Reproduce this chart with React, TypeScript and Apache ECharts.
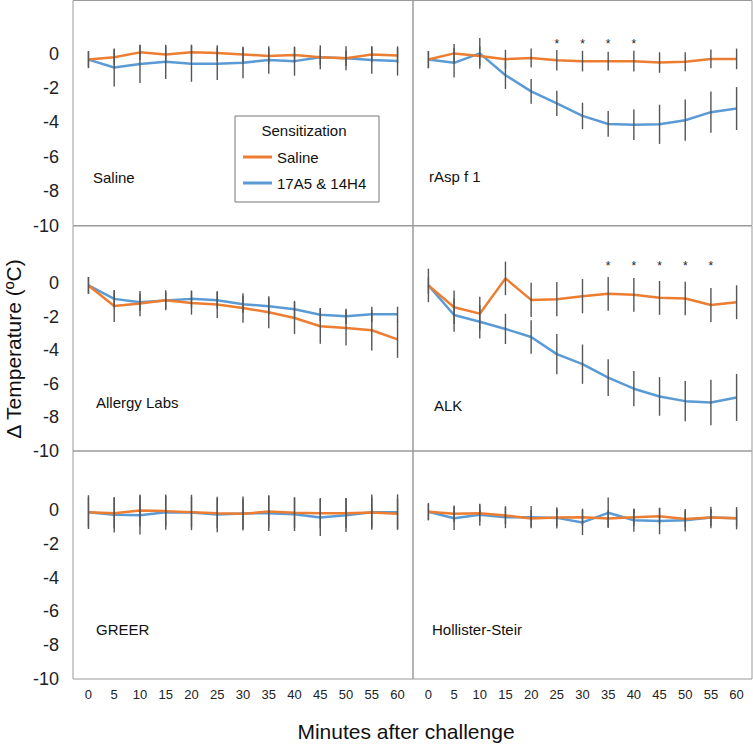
import React, { useEffect, useRef } from "react";
import * as echarts from "echarts";

// ---- data ----
const minutes = [0, 5, 10, 15, 20, 25, 30, 35, 40, 45, 50, 55, 60];
const yTicks = [0, -2, -4, -6, -8, -10];
const panelNames = ["Saline", "rAsp f 1", "Allergy Labs", "ALK", "GREER", "Hollister-Steir"];
const seriesNames = ["Saline", "17A5 & 14H4"];

// Saline panel
const salineSal = [-0.34, -0.2, 0.08, -0.04, 0.08, 0.04, -0.04, -0.13, -0.08, -0.2, -0.26, -0.04, -0.1];
const salineSalErr = [0.45, 0.45, 0.45, 0.45, 0.45, 0.45, 0.45, 0.45, 0.45, 0.45, 0.45, 0.45, 0.45];
const salineAb = [-0.34, -0.8, -0.6, -0.47, -0.58, -0.58, -0.53, -0.36, -0.43, -0.2, -0.26, -0.36, -0.42];
const salineAbErr = [0.5, 1.1, 1.1, 1.0, 1.05, 0.95, 0.9, 0.8, 0.85, 0.7, 0.7, 0.8, 0.85];

// rAsp f 1 panel
const raspSal = [-0.34, 0.02, -0.13, -0.32, -0.25, -0.38, -0.43, -0.43, -0.43, -0.51, -0.47, -0.3, -0.3];
const raspSalErr = [0.5, 0.55, 0.55, 0.55, 0.55, 0.6, 0.6, 0.55, 0.6, 0.6, 0.55, 0.55, 0.6];
const raspAb = [-0.34, -0.53, 0.02, -1.25, -2.19, -2.89, -3.62, -4.09, -4.13, -4.11, -3.87, -3.4, -3.19];
const raspAbErr = [0.5, 0.86, 0.9, 0.8, 0.72, 0.73, 0.77, 0.75, 0.89, 1.14, 1.2, 1.2, 1.25];
const raspStars = [25, 30, 35, 40];
const raspStarLevel = 0.55;

// Allergy Labs panel
const allergySal = [-0.14, -1.36, -1.22, -1.02, -1.18, -1.28, -1.48, -1.74, -2.08, -2.57, -2.67, -2.81, -3.35];
const allergySalErr = [0.5, 0.95, 0.75, 0.6, 0.7, 0.8, 0.88, 0.95, 0.95, 1.05, 1.05, 1.2, 1.1];
const allergyAb = [-0.14, -0.94, -1.14, -1.04, -0.94, -1.02, -1.26, -1.38, -1.56, -1.88, -1.98, -1.86, -1.86];
const allergyAbErr = [0.5, 0.5, 0.5, 0.5, 0.5, 0.5, 0.5, 0.5, 0.5, 0.4, 0.45, 0.45, 0.45];

// ALK panel
const alkSal = [-0.14, -1.44, -1.82, 0.28, -1.0, -0.96, -0.78, -0.64, -0.7, -0.88, -0.92, -1.3, -1.14];
const alkSalErr = [1.0, 1.0, 1.0, 1.0, 1.02, 1.02, 1.02, 1.0, 1.01, 1.01, 1.0, 1.01, 1.01];
const alkAb = [-0.14, -1.9, -2.3, -2.73, -3.21, -4.23, -4.83, -5.63, -6.29, -6.75, -7.03, -7.11, -6.81];
const alkAbErr = [0.5, 1.0, 1.0, 0.9, 1.0, 1.2, 1.17, 1.1, 1.05, 1.15, 1.2, 1.35, 1.4];
const alkStars = [35, 40, 45, 50, 55];
const alkStarLevel = 1.0;

// GREER panel
const greerSal = [-0.12, -0.18, -0.02, -0.06, -0.12, -0.18, -0.22, -0.08, -0.16, -0.18, -0.18, -0.14, -0.22];
const greerSalErr = [0.9, 0.9, 0.95, 0.9, 0.9, 0.9, 0.9, 0.95, 0.9, 0.9, 0.9, 0.9, 0.9];
const greerAb = [-0.12, -0.28, -0.3, -0.12, -0.14, -0.26, -0.2, -0.18, -0.24, -0.44, -0.3, -0.12, -0.12];
const greerAbErr = [1.0, 1.05, 1.15, 1.05, 1.05, 1.05, 1.0, 1.05, 1.0, 1.1, 1.0, 1.05, 1.05];

// Hollister-Steir panel
const hollSal = [-0.1, -0.22, -0.18, -0.32, -0.5, -0.44, -0.42, -0.5, -0.42, -0.36, -0.52, -0.44, -0.48];
const hollSalErr = [0.5, 0.5, 0.5, 0.5, 0.5, 0.5, 0.5, 0.5, 0.5, 0.5, 0.5, 0.5, 0.5];
const hollAb = [-0.1, -0.48, -0.28, -0.42, -0.42, -0.46, -0.73, -0.16, -0.6, -0.65, -0.6, -0.44, -0.48];
const hollAbErr = [0.5, 0.7, 0.65, 0.65, 0.66, 0.63, 0.75, 0.9, 0.68, 0.78, 0.67, 0.64, 0.66];

const panelSal = [salineSal, raspSal, allergySal, alkSal, greerSal, hollSal];
const panelSalErr = [salineSalErr, raspSalErr, allergySalErr, alkSalErr, greerSalErr, hollSalErr];
const panelAb = [salineAb, raspAb, allergyAb, alkAb, greerAb, hollAb];
const panelAbErr = [salineAbErr, raspAbErr, allergyAbErr, alkAbErr, greerAbErr, hollAbErr];

// ---- styles / layout ----
const FONT = "'Liberation Sans', Arial, Helvetica, sans-serif";
const ORANGE = "#ED7D31";
const BLUE = "#5B9BD5";
const ERR = "#555555";
const BORDER = "#9a9a9a";

const colLeft = [73, 413];
const colWidth = [340, 339];
const rowTop = [0.5, 226, 451];
const rowHeight = [225, 225, 228];
const rowMax = [3.1, 3.4, 3.5];
const labelPos: [number, number][] = [
  [93, 178],
  [429, 177],
  [96, 403],
  [434, 406],
  [96, 630],
  [432, 630],
];

function buildOption() {
  const grid: any[] = [];
  const xAxis: any[] = [];
  const yAxis: any[] = [];
  const series: any[] = [];
  const graphic: any[] = [];

  const errRender = (color: string) => (params: any, api: any) => {
    const x = api.value(0);
    const lo = api.coord([x, api.value(1)]);
    const hi = api.coord([x, api.value(2)]);
    return {
      type: "line",
      shape: { x1: lo[0], y1: lo[1], x2: hi[0], y2: hi[1] },
      style: { stroke: color, lineWidth: 1.4 },
    };
  };

  for (let i = 0; i < 6; i++) {
    const row = Math.floor(i / 2);
    const col = i % 2;
    const bottom = row === 2;
    const leftCol = col === 0;
    grid.push({
      left: colLeft[col],
      top: rowTop[row],
      width: colWidth[col],
      height: rowHeight[row],
      show: true,
      borderColor: BORDER,
      borderWidth: 1,
      backgroundColor: "transparent",
    });
    xAxis.push({
      gridIndex: i,
      type: "value",
      min: -3,
      max: 63,
      axisLine: { show: false },
      splitLine: { show: false },
      axisTick: {
        show: bottom,
        customValues: minutes,
        length: 3,
        lineStyle: { color: "#777" },
      },
      axisLabel: {
        show: bottom,
        customValues: minutes,
        fontSize: 13,
        fontFamily: FONT,
        color: "#222",
        margin: 9,
      },
    });
    yAxis.push({
      gridIndex: i,
      type: "value",
      min: -10,
      max: rowMax[row],
      axisLine: { show: false },
      axisTick: { show: false },
      splitLine: { show: false },
      axisLabel: {
        show: leftCol,
        customValues: yTicks,
        fontSize: 18,
        fontFamily: FONT,
        color: "#222",
        margin: 14,
      },
    });

    const blueData = minutes.map((m, k) => [m, panelAb[i][k]]);
    const orangeData = minutes.map((m, k) => [m, panelSal[i][k]]);
    series.push({
      type: "line",
      name: seriesNames[1],
      xAxisIndex: i,
      yAxisIndex: i,
      data: blueData,
      symbol: "none",
      color: BLUE,
      lineStyle: { color: BLUE, width: 2.5 },
      z: 2,
    });
    series.push({
      type: "line",
      name: seriesNames[0],
      xAxisIndex: i,
      yAxisIndex: i,
      data: orangeData,
      symbol: "none",
      color: ORANGE,
      lineStyle: { color: ORANGE, width: 2.5 },
      z: 3,
    });
    series.push({
      type: "custom",
      name: "errAb" + i,
      xAxisIndex: i,
      yAxisIndex: i,
      renderItem: errRender(ERR),
      encode: { x: 0, y: [1, 2] },
      data: minutes.map((m, k) => [m, panelAb[i][k] - panelAbErr[i][k], panelAb[i][k] + panelAbErr[i][k]]),
      z: 4,
      silent: true,
    });
    series.push({
      type: "custom",
      name: "errSal" + i,
      xAxisIndex: i,
      yAxisIndex: i,
      renderItem: errRender(ERR),
      encode: { x: 0, y: [1, 2] },
      data: minutes.map((m, k) => [m, panelSal[i][k] - panelSalErr[i][k], panelSal[i][k] + panelSalErr[i][k]]),
      z: 4,
      silent: true,
    });

    graphic.push({
      type: "text",
      left: labelPos[i][0],
      top: labelPos[i][1] - 8,
      style: { text: panelNames[i], font: `15px ${FONT}`, fill: "#111" },
    });
  }

  const starRender = (params: any, api: any) => {
    const p = api.coord([api.value(0), api.value(1)]);
    return {
      type: "text",
      x: p[0],
      y: p[1],
      style: {
        text: "*",
        font: `12px ${FONT}`,
        fill: "#222",
        align: "center",
        verticalAlign: "middle",
      },
    };
  };
  series.push({
    type: "custom",
    name: "starsRasp",
    xAxisIndex: 1,
    yAxisIndex: 1,
    renderItem: starRender,
    data: raspStars.map((m) => [m, raspStarLevel]),
    silent: true,
  });
  series.push({
    type: "custom",
    name: "starsAlk",
    xAxisIndex: 3,
    yAxisIndex: 3,
    renderItem: starRender,
    data: alkStars.map((m) => [m, alkStarLevel]),
    silent: true,
  });

  // legend box and title
  graphic.push({
    type: "rect",
    shape: { x: 235, y: 116, width: 144, height: 86 },
    style: { fill: "#fff", stroke: "#777", lineWidth: 1 },
    z: 10,
  });
  graphic.push({
    type: "text",
    x: 304,
    y: 130,
    style: {
      text: "Sensitization",
      font: `15px ${FONT}`,
      fill: "#111",
      align: "center",
      verticalAlign: "middle",
    },
    z: 11,
  });
  // axis titles
  graphic.push({
    type: "text",
    x: 13,
    y: 349,
    rotation: Math.PI / 2,
    style: {
      text: "Δ Temperature (ºC)",
      font: `21px ${FONT}`,
      fill: "#111",
      align: "center",
      verticalAlign: "middle",
    },
  });
  graphic.push({
    type: "text",
    x: 406,
    y: 731,
    style: {
      text: "Minutes after challenge",
      font: `21px ${FONT}`,
      fill: "#111",
      align: "center",
      verticalAlign: "middle",
    },
  });

  return {
    animation: false,
    backgroundColor: "#fff",
    grid,
    xAxis,
    yAxis,
    series,
    graphic,
    legend: {
      data: seriesNames,
      orient: "vertical",
      left: 243,
      top: 149,
      icon: "rect",
      itemWidth: 29,
      itemHeight: 3,
      itemGap: 10,
      selectedMode: false,
      padding: 0,
      z: 12,
      textStyle: { fontSize: 15, fontFamily: FONT, color: "#111", lineHeight: 16 },
    },
  };
}

export default function App() {
  const ref = useRef<HTMLDivElement>(null);
  useEffect(() => {
    if (!ref.current) return;
    const chart = echarts.init(ref.current, null, { renderer: "svg" });
    chart.setOption(buildOption() as any);
    return () => chart.dispose();
  }, []);
  return (
    <div
      ref={ref}
      style={{ position: "fixed", left: 0, top: 0, width: 753, height: 745, background: "#fff" }}
    />
  );
}
